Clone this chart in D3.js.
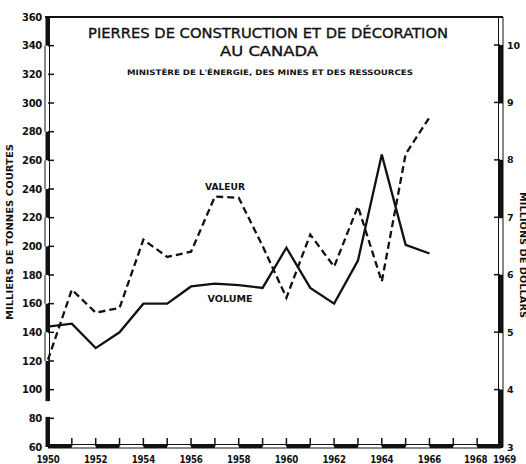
<!DOCTYPE html>
<html>
<head>
<meta charset="utf-8">
<script src="https://cdn.jsdelivr.net/npm/d3@7"></script>
<style>
  html, body { margin: 0; padding: 0; background: #fff; }
  svg { display: block; }
  text { fill: #111; }
</style>
</head>
<body>
<svg id="chart" width="526" height="464"></svg>
<script>
// Production of building and ornamental stone in Canada
const years   = [1950, 1951, 1952, 1953, 1954, 1955, 1956, 1957, 1958, 1959, 1960, 1961, 1962, 1963, 1964, 1965, 1966];
// Volume, thousands of short tons (left scale)
const volume  = [144, 146, 129, 140, 160, 160, 172, 174, 173, 171, 199, 171, 160, 190, 264, 201, 195];
// Value, millions of dollars (right scale)
const valeur  = [4.52, 5.74, 5.34, 5.42, 6.61, 6.31, 6.40, 7.36, 7.34, 6.50, 5.60, 6.70, 6.14, 7.19, 5.88, 8.10, 8.74];

const leftTicks   = [60, 80, 100, 120, 140, 160, 180, 200, 220, 240, 260, 280, 300, 320, 340, 360];
const rightTicks  = [3, 4, 5, 6, 7, 8, 9, 10];
const yearLabels  = [1950, 1952, 1954, 1956, 1958, 1960, 1962, 1964, 1966, 1968, 1969];

const titleLines  = ["PIERRES DE CONSTRUCTION ET DE DÉCORATION", "AU CANADA"];
const subtitle    = "MINISTÈRE DE L'ÉNERGIE, DES MINES ET DES RESSOURCES";
const leftTitle   = "MILLIERS DE TONNES COURTES";
const rightTitle  = "MILLIONS DE DOLLARS";

const svg = d3.select("#chart");
const ink = "#111";

const x  = d3.scaleLinear().domain([1950, 1969]).range([48, 501]);
const yL = d3.scaleLinear().domain([60, 360]).range([447, 17]);
const yR = d3.scaleLinear().domain([3, 10]).range([447, 45]);

const axes = svg.append("g");

// Top frame line
axes.append("line")
  .attr("x1", 45).attr("x2", 503).attr("y1", 17).attr("y2", 17)
  .attr("stroke", ink).attr("stroke-width", 2.2);

// Bottom axis: alternating solid / open bars, one per year
d3.range(1950, 1969).forEach(yr => {
  if (yr % 2 === 0) {
    axes.append("rect")
      .attr("x", x(yr)).attr("y", 444).attr("width", x(yr + 1) - x(yr)).attr("height", 4.5)
      .attr("fill", ink);
  } else {
    [444.5, 448].forEach(yy => axes.append("line")
      .attr("x1", x(yr)).attr("x2", x(yr + 1)).attr("y1", yy).attr("y2", yy)
      .attr("stroke", ink).attr("stroke-width", 1));
  }
});
// year ticks
d3.range(1951, 1969).forEach(yr => axes.append("line")
  .attr("x1", x(yr)).attr("x2", x(yr)).attr("y1", 446).attr("y2", 438)
  .attr("stroke", ink).attr("stroke-width", 1.5));

// Left axis: solid and open sections, broken between 80 and 90
const leftSolid = [[340, 360], [260, 280], [220, 240], [180, 200], [140, 160], [92, 120], [60, 81]];
const leftOpen  = [[280, 340], [240, 260], [200, 220], [160, 180], [120, 140]];
leftSolid.forEach(([a, b]) => axes.append("rect")
  .attr("x", 45.5).attr("y", yL(b)).attr("width", 4.5).attr("height", yL(a) - yL(b))
  .attr("fill", ink));
leftOpen.forEach(([a, b]) => [45, 49.5].forEach(xx => axes.append("line")
  .attr("x1", xx).attr("x2", xx).attr("y1", yL(b)).attr("y2", yL(a))
  .attr("stroke", ink).attr("stroke-width", 1)));
leftTicks.filter(v => v > 60).forEach(v => axes.append("line")
  .attr("x1", 48).attr("x2", 54).attr("y1", yL(v)).attr("y2", yL(v))
  .attr("stroke", ink).attr("stroke-width", 1.5));

// Right axis: open double line full height, solid every other unit
[498.5, 503].forEach(xx => axes.append("line")
  .attr("x1", xx).attr("x2", xx).attr("y1", 17).attr("y2", 447)
  .attr("stroke", ink).attr("stroke-width", 1));
[[9, 10], [7, 8], [5, 6], [3, 4]].forEach(([a, b]) => axes.append("rect")
  .attr("x", 498).attr("y", yR(b)).attr("width", 5).attr("height", yR(a) - yR(b) + 1)
  .attr("fill", ink));
rightTicks.filter(v => v > 3).forEach(v => axes.append("line")
  .attr("x1", 500).attr("x2", 494).attr("y1", yR(v)).attr("y2", yR(v))
  .attr("stroke", ink).attr("stroke-width", 1.5));

// Tick labels
const tickFont = "'DejaVu Sans', sans-serif";
svg.append("g").selectAll("text").data(leftTicks).join("text")
  .attr("x", 42).attr("y", d => yL(d) + 3.6)
  .attr("text-anchor", "end")
  .attr("font-family", tickFont).attr("font-weight", "bold").attr("font-size", 10)
  .attr("letter-spacing", -0.3)
  .text(d => d);

svg.append("g").selectAll("text").data(rightTicks).join("text")
  .attr("x", 507).attr("y", d => yR(d) + 3.5)
  .attr("font-family", tickFont).attr("font-weight", "bold").attr("font-size", 9.5)
  .text(d => d);

// the last two year labels are nudged apart so they do not touch
const yearNudge = { 1968: -1.5, 1969: 3.5 };
svg.append("g").selectAll("text").data(yearLabels).join("text")
  .attr("x", d => x(d) + (yearNudge[d] || 0)).attr("y", 462.5)
  .attr("text-anchor", "middle")
  .attr("font-family", "'DejaVu Sans Condensed', 'DejaVu Sans', sans-serif")
  .attr("font-weight", "bold").attr("font-size", 9.6)
  .attr("letter-spacing", -0.2)
  .text(d => d);

// Axis titles
svg.append("text")
  .attr("transform", "translate(12.5,232) rotate(-90)")
  .attr("text-anchor", "middle")
  .attr("font-family", tickFont).attr("font-weight", "bold").attr("font-size", 9.5)
  .attr("textLength", 176).attr("lengthAdjust", "spacingAndGlyphs")
  .text(leftTitle);

svg.append("text")
  .attr("transform", "translate(519.5,255) rotate(90)")
  .attr("text-anchor", "middle")
  .attr("font-family", tickFont).attr("font-weight", "bold").attr("font-size", 8.5)
  .attr("textLength", 126).attr("lengthAdjust", "spacingAndGlyphs")
  .text(rightTitle);

// Titles
const titleFont = "'DejaVu Sans', sans-serif";
svg.append("text")
  .attr("x", 268).attr("y", 38).attr("text-anchor", "middle")
  .attr("font-family", titleFont).attr("font-size", 13.5)
  .attr("stroke", ink).attr("stroke-width", 0.35)
  .attr("textLength", 360).attr("lengthAdjust", "spacingAndGlyphs")
  .text(titleLines[0]);
svg.append("text")
  .attr("x", 269).attr("y", 56).attr("text-anchor", "middle")
  .attr("font-family", titleFont).attr("font-size", 13.5)
  .attr("stroke", ink).attr("stroke-width", 0.35)
  .attr("textLength", 98).attr("lengthAdjust", "spacingAndGlyphs")
  .text(titleLines[1]);
svg.append("text")
  .attr("x", 270).attr("y", 75).attr("text-anchor", "middle")
  .attr("font-family", titleFont).attr("font-weight", "bold").attr("font-size", 7.5)
  .attr("textLength", 286).attr("lengthAdjust", "spacingAndGlyphs")
  .text(subtitle);

// Series lines
const lineVol = d3.line().x((d, i) => x(years[i])).y(d => yL(d));
const lineVal = d3.line().x((d, i) => x(years[i])).y(d => yR(d));

svg.append("path").datum(volume)
  .attr("d", lineVol)
  .attr("fill", "none").attr("stroke", ink).attr("stroke-width", 2.3)
  .attr("stroke-linejoin", "miter");

svg.append("path").datum(valeur)
  .attr("d", lineVal)
  .attr("fill", "none").attr("stroke", ink).attr("stroke-width", 2.3)
  .attr("stroke-dasharray", "7,4");

// Series labels
svg.append("text")
  .attr("x", 225).attr("y", 190).attr("text-anchor", "middle")
  .attr("font-family", tickFont).attr("font-weight", "bold").attr("font-size", 9)
  .attr("textLength", 40).attr("lengthAdjust", "spacingAndGlyphs")
  .text("VALEUR");
svg.append("text")
  .attr("x", 230).attr("y", 302).attr("text-anchor", "middle")
  .attr("font-family", tickFont).attr("font-weight", "bold").attr("font-size", 9)
  .attr("textLength", 45).attr("lengthAdjust", "spacingAndGlyphs")
  .text("VOLUME");
</script>
</body>
</html>
